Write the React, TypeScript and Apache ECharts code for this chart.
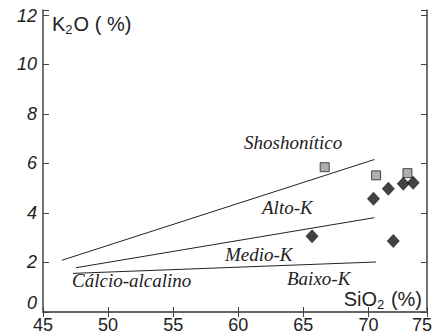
import React, { useEffect, useRef } from "react";
import * as echarts from "echarts";

// Boundary lines (SiO2, K2O)
const lineShoshonitic: [number, number][] = [[46.45, 2.09], [70.46, 6.16]];
const lineHighK: [number, number][] = [[47.54, 1.79], [70.46, 3.81]];
const lineMediumK: [number, number][] = [[47.29, 1.56], [70.59, 2.02]];

// Samples
const squareSamples: [number, number][] = [
  [66.64, 5.85],
  [70.59, 5.52],
  [73.0, 5.61],
];
const diamondSamples: [number, number][] = [
  [70.39, 4.58],
  [71.53, 4.98],
  [72.68, 5.18],
  [73.44, 5.22],
  [65.67, 3.06],
  [71.91, 2.87],
];

const xTicks = [45, 50, 55, 60, 65, 70, 75];
const yTicks = [0, 2, 4, 6, 8, 10, 12];

export default function App() {
  const ref = useRef<HTMLDivElement>(null);
  useEffect(() => {
    if (!ref.current) return;
    const chart = echarts.init(ref.current, null, { renderer: "svg" });
    const axisColor = "#444";
    const textColor = "#222";
    const serif = "'Liberation Serif', 'DejaVu Serif', serif";
    const sans = "'Liberation Sans', Arial, sans-serif";
    const lineSeries = (data: [number, number][]) => ({
      type: "line",
      data,
      symbol: "none",
      lineStyle: { color: "#222", width: 1 },
      silent: true,
    });
    chart.setOption({
      animation: false,
      grid: { left: 43, right: 7, top: 10, bottom: 23 },
      xAxis: [
        {
          type: "value",
          min: 45,
          max: 74.5,
          interval: 5,
          position: "bottom",
          splitLine: { show: false },
          axisLine: { lineStyle: { color: axisColor, width: 1.5 } },
          axisTick: { inside: true, length: 5, lineStyle: { color: axisColor } },
          axisLabel: {
            margin: 4,
            color: textColor,
            fontFamily: sans,
            fontSize: 18,
            showMaxLabel: true,
            formatter: (v: number) => {
              if (v > 74) return "{r|" + xTicks[xTicks.length - 1] + "}";
              return xTicks.includes(v) ? String(v) : "";
            },
            rich: { r: { fontFamily: sans, fontSize: 18, color: textColor, padding: [0, 10, 0, 0] } },
          },
        },
        {
          type: "value",
          min: 45,
          max: 74.5,
          interval: 5,
          position: "top",
          splitLine: { show: false },
          axisLine: { lineStyle: { color: "#666", width: 2 } },
          axisTick: { inside: true, length: 5, lineStyle: { color: axisColor } },
          axisLabel: { show: false },
        },
      ],
      yAxis: [
        {
          type: "value",
          min: 0,
          max: 12.2,
          interval: 2,
          position: "left",
          splitLine: { show: false },
          axisLine: { show: true, lineStyle: { color: axisColor, width: 1.5 } },
          axisTick: { show: true, inside: true, length: 6, lineStyle: { color: axisColor } },
          axisLabel: {
            margin: 6,
            color: textColor,
            fontFamily: sans,
            fontStyle: "italic",
            fontSize: 18,
            formatter: (v: number) => {
              if (v === 0) return "{z|0}";
              if (v === 12) return "{t|12}";
              return yTicks.includes(v) ? String(v) : "";
            },
            rich: {
              z: { fontFamily: sans, fontStyle: "italic", fontSize: 18, color: textColor, padding: [0, 0, 18, 0] },
              t: { fontFamily: sans, fontStyle: "italic", fontSize: 18, color: textColor, padding: [2, 0, 0, 0] },
            },
          },
        },
        {
          type: "value",
          min: 0,
          max: 12.2,
          interval: 2,
          position: "right",
          splitLine: { show: false },
          axisLine: { show: true, lineStyle: { color: "#444", width: 1.5 } },
          axisTick: { show: true, inside: true, length: 6, lineStyle: { color: axisColor } },
          axisLabel: { show: false },
        },
      ],
      series: [
        lineSeries(lineShoshonitic),
        lineSeries(lineHighK),
        lineSeries(lineMediumK),
        {
          type: "scatter",
          data: squareSamples,
          symbol: "rect",
          symbolSize: 9,
          itemStyle: { color: "#9a9a9a", borderColor: "#222", borderWidth: 1 },
        },
        {
          type: "scatter",
          data: diamondSamples,
          symbol: "diamond",
          symbolSize: [13, 14],
          itemStyle: { color: "#111" },
        },
      ],
      graphic: [
        {
          type: "text",
          left: 52,
          top: 14,
          style: {
            text: "{a|K}{s|2}{a|O ( %)}",
            rich: {
              a: { fontFamily: sans, fontSize: 20, fill: textColor, color: textColor },
              s: { fontFamily: sans, fontSize: 13, fill: textColor, color: textColor, padding: [10, 1, 0, 0] },
            },
          },
        },
        {
          type: "text",
          right: 13,
          top: 289,
          style: {
            text: "{a|SiO}{s|2}{a| (%)}",
            rich: {
              a: { fontFamily: sans, fontSize: 20, fill: textColor, color: textColor },
              s: { fontFamily: sans, fontSize: 13, fill: textColor, color: textColor, padding: [10, 1, 0, 0] },
            },
          },
        },
        {
          type: "text",
          x: 244,
          y: 142,
          style: { text: "Shoshonítico", font: "italic 19px " + serif, fill: textColor, verticalAlign: "middle" },
        },
        {
          type: "text",
          x: 262,
          y: 207,
          style: { text: "Alto-K", font: "italic 19px " + serif, fill: textColor, verticalAlign: "middle" },
        },
        {
          type: "text",
          x: 225,
          y: 254,
          style: { text: "Medio-K", font: "italic 19px " + serif, fill: textColor, verticalAlign: "middle" },
        },
        {
          type: "text",
          x: 287,
          y: 278,
          style: { text: "Baixo-K", font: "italic 19px " + serif, fill: textColor, verticalAlign: "middle" },
        },
        {
          type: "text",
          x: 72,
          y: 280,
          style: { text: "Cálcio-alcalino", font: "italic 19px " + serif, fill: textColor, verticalAlign: "middle" },
        },
      ],
    });
    return () => chart.dispose();
  }, []);
  return (
    <div
      ref={ref}
      style={{ position: "absolute", left: 0, top: 0, width: 435, height: 335, background: "#fff" }}
    />
  );
}
